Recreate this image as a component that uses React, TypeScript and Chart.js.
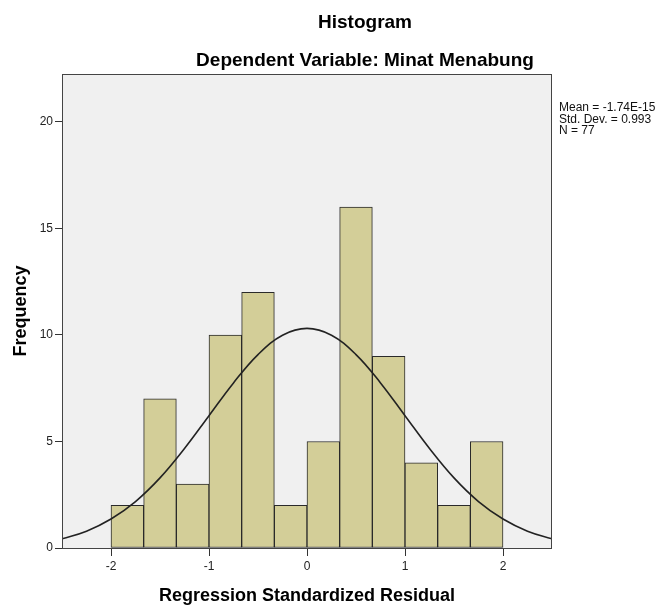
import React, { useEffect, useRef } from "react";
import { Chart, registerables } from "chart.js";

Chart.register(...registerables);

// ---- data ----
const binStart = -2;
const binWidth = 1 / 3;
const frequencies = [2, 7, 3, 10, 12, 2, 5, 16, 9, 4, 2, 5];
const curveX = [-2.5, -2.25, -2, -1.75, -1.5, -1.25, -1, -0.75, -0.5, -0.25, 0, 0.25, 0.5, 0.75, 1, 1.25, 1.5, 1.75, 2, 2.25, 2.5];
const curveY = [0.43, 0.79, 1.36, 2.18, 3.29, 4.67, 6.21, 7.75, 9.08, 9.99, 10.31, 9.99, 9.08, 7.75, 6.21, 4.67, 3.29, 2.18, 1.36, 0.79, 0.43];
const xTicks = [-2, -1, 0, 1, 2];
const yTicks = [0, 5, 10, 15, 20];
const xRange = [-2.5, 2.5];
const yMax = 22.25;
const titleText = "Histogram";
const subtitleText = "Dependent Variable: Minat Menabung";
const statsLines = ["Mean = -1.74E-15", "Std. Dev. = 0.993", "N = 77"];
const xTitle = "Regression Standardized Residual";
const yTitle = "Frequency";

const FONT = '"Liberation Sans", Arial, sans-serif';

const decorPlugin = {
  id: "decor",
  beforeDatasetsDraw(chart: any) {
    const { ctx, chartArea: a } = chart;
    ctx.save();
    ctx.fillStyle = "#f0f0f0";
    ctx.fillRect(a.left, a.top, a.right - a.left, a.bottom - a.top);
    ctx.restore();
  },
  afterDatasetsDraw(chart: any) {
    const { ctx, chartArea: a } = chart;
    ctx.save();
    ctx.strokeStyle = "#444";
    ctx.lineWidth = 1;
    ctx.strokeRect(a.left + 0.5, a.top + 0.5, a.right - a.left - 1, a.bottom - a.top);
    ctx.fillStyle = "#000";
    ctx.textAlign = "center";
    ctx.textBaseline = "alphabetic";
    ctx.font = `bold 19px ${FONT}`;
    ctx.fillText(titleText, 365, 28);
    ctx.fillText(subtitleText, 365, 66);
    ctx.font = `12px ${FONT}`;
    ctx.textAlign = "left";
    ctx.fillStyle = "#111";
    statsLines.forEach((s, i) => ctx.fillText(s, 559, 111 + i * 11.5));
    ctx.restore();
  },
};

export default function App() {
  const ref = useRef<HTMLCanvasElement>(null);
  useEffect(() => {
    if (!ref.current) return;
    const barData = frequencies.map((f, i) => ({ x: binStart + binWidth * (i + 0.5), y: f }));
    const lineData = curveX.map((x, i) => ({ x, y: curveY[i] }));
    const chart = new Chart(ref.current, {
      type: "bar",
      data: {
        datasets: [
          {
            type: "line",
            data: lineData,
            borderColor: "#222",
            borderWidth: 1.6,
            pointRadius: 0,
            tension: 0.4,
            fill: false,
            order: 0,
          } as any,
          {
            type: "bar",
            data: barData,
            backgroundColor: "rgb(211,206,152)",
            borderColor: "#2a2a2a",
            borderWidth: 1,
            borderSkipped: false,
            barPercentage: 1,
            categoryPercentage: 1,
            order: 1,
          } as any,
        ],
      },
      options: {
        responsive: false,
        animation: false,
        layout: { padding: { top: 74, right: 110, left: 0, bottom: 0 } },
        plugins: { legend: { display: false }, tooltip: { enabled: false }, title: { display: false } },
        scales: {
          x: {
            type: "linear",
            min: xRange[0],
            max: xRange[1],
            offset: false,
            afterBuildTicks: (s: any) => {
              s.ticks = xTicks.map((v) => ({ value: v }));
            },
            afterFit: (s: any) => {
              s.height = 57;
            },
            grid: { offset: false, drawOnChartArea: false, drawTicks: true, tickLength: 8, color: "#333" },
            border: { display: false },
            ticks: { font: { family: FONT, size: 12 }, color: "#222", padding: 3 },
            title: {
              display: true,
              text: xTitle,
              color: "#000",
              font: { family: FONT, size: 18, weight: "bold", lineHeight: 1 },
              padding: { top: 0, bottom: 0 },
            },
          },
          y: {
            type: "linear",
            min: 0,
            max: yMax,
            afterBuildTicks: (s: any) => {
              s.ticks = yTicks.map((v) => ({ value: v }));
            },
            afterFit: (s: any) => {
              s.width = 62;
            },
            grid: { drawOnChartArea: false, drawTicks: true, tickLength: 7, color: "#333" },
            border: { display: false },
            ticks: { font: { family: FONT, size: 12 }, color: "#222", padding: 2 },
            title: {
              display: true,
              text: yTitle,
              color: "#000",
              font: { family: FONT, size: 18, weight: "bold", lineHeight: 1 },
              padding: { top: 12, bottom: 0 },
            },
          },
        },
      } as any,
      plugins: [decorPlugin],
    });
    return () => chart.destroy();
  }, []);
  return (
    <div style={{ position: "absolute", left: 0, top: 0, width: 662, height: 605, background: "#fff" }}>
      <canvas ref={ref} width={662} height={605} style={{ display: "block" }} />
    </div>
  );
}
